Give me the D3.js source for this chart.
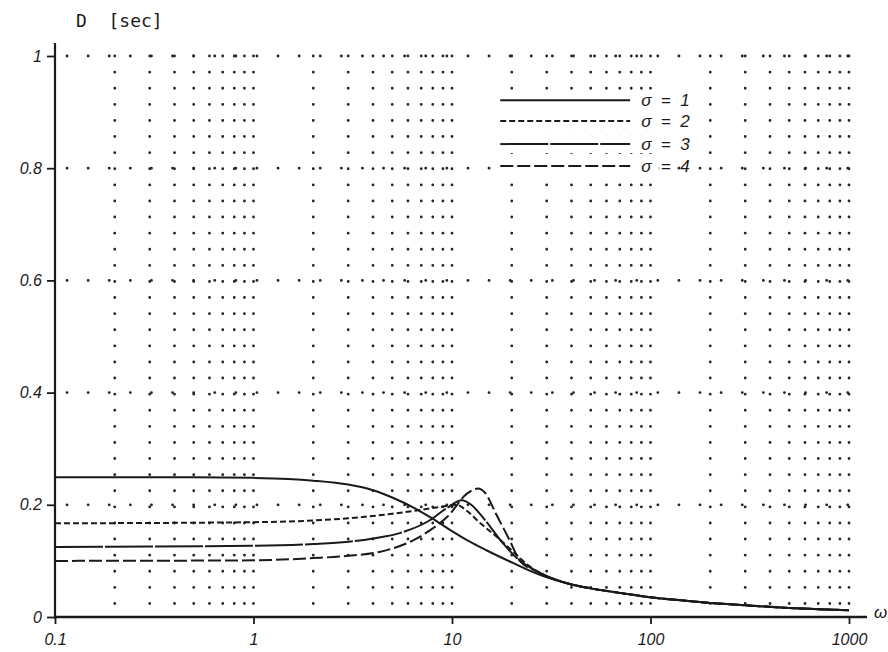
<!DOCTYPE html>
<html>
<head>
<meta charset="utf-8">
<script src="https://cdn.jsdelivr.net/npm/d3@7"></script>
<style>
  html, body { margin: 0; padding: 0; background: #fff; }
  svg { display: block; }
</style>
</head>
<body>
<svg id="chart" width="888" height="652"></svg>
<script>
// ---- data ----
const tail = [40, 50, 70, 100, 150, 200, 300, 500, 700, 1000];
const tailD = [0.058, 0.051, 0.043, 0.035, 0.029, 0.025, 0.021, 0.016, 0.014, 0.012];

const omega1 = [0.1, 0.5, 1, 1.5, 2, 3, 4, 5, 6.4, 7.5, 8.7, 10, 11.9, 14.9, 20.4, 27.7].concat(tail);
const delay1 = [0.249, 0.249, 0.248, 0.246, 0.243, 0.236, 0.226, 0.213, 0.195, 0.181, 0.167, 0.153, 0.137, 0.119, 0.096, 0.075].concat(tailD);

const omega2 = [0.1, 1, 2, 3, 5, 7, 9, 10.5, 12, 13.9, 16.8, 20.4, 24, 30].concat(tail);
const delay2 = [0.167, 0.169, 0.172, 0.176, 0.184, 0.191, 0.197, 0.2, 0.188, 0.167, 0.143, 0.116, 0.093, 0.073].concat(tailD);

const omega3 = [0.1, 1, 2, 3, 4, 5.5, 7.7, 9.5, 11.2, 12.5, 14.5, 18, 22, 26, 30].concat(tail);
const delay3 = [0.125, 0.127, 0.13, 0.134, 0.14, 0.15, 0.172, 0.195, 0.208, 0.2, 0.175, 0.132, 0.1, 0.084, 0.073].concat(tailD);

const omega4 = [0.1, 1, 2, 3, 4.3, 6.4, 8, 9.5, 11.9, 13.5, 14.7, 16.6, 19.5, 22, 26, 30].concat(tail);
const delay4 = [0.1, 0.101, 0.105, 0.109, 0.116, 0.137, 0.158, 0.179, 0.22, 0.229, 0.221, 0.185, 0.137, 0.1, 0.083, 0.073].concat(tailD);

const seriesNames = ["\u03c3  =  1", "\u03c3  =  2", "\u03c3  =  3", "\u03c3  =  4"];
const seriesDash = ["none", "6,3", "48,2", "13,4"];
const legendLevels = [0.921, 0.884, 0.843, 0.804];

const yTicks = [0, 0.2, 0.4, 0.6, 0.8, 1];
const yTickLabels = ["0", "0.2", "0.4", "0.6", "0.8", "1"];
const xTicks = [0.1, 1, 10, 100, 1000];
const xTickLabels = ["0.1", "1", "10", "100", "1000"];
const yTitle = "D  [sec]";
const xTitle = "\u03c9";

// ---- drawing ----
const svg = d3.select("#chart");
const x = d3.scaleLog().domain([0.1, 1000]).range([55, 849]);
const y = d3.scaleLinear().domain([0, 1]).range([617, 56]);

const ink = "#1a1a1a";
const font = "'Liberation Sans', Arial, sans-serif";

// dotted grid: minor vertical columns
const minor = [];
[0.1, 1, 10, 100].forEach(dec => {
  for (let k = 2; k <= 10; k++) minor.push(+(dec * k).toPrecision(6));
});
const grid = svg.append("g").attr("stroke", "#262626").attr("stroke-linecap", "round");
grid.selectAll("line.v").data(minor).join("line")
  .attr("class", "v")
  .attr("x1", d => x(d)).attr("x2", d => x(d))
  .attr("y1", y(1)).attr("y2", y(0) - 6)
  .attr("stroke-width", 2.8)
  .attr("stroke-dasharray", "0.1,16");
// horizontal dotted lines
grid.selectAll("line.h").data(yTicks.slice(1)).join("line")
  .attr("class", "h")
  .attr("x1", x(0.1) + 12).attr("x2", x(1000) + 4)
  .attr("y1", d => y(d)).attr("y2", d => y(d))
  .attr("stroke-width", 2.8)
  .attr("stroke-dasharray", "0.1,21");

// axes
const yAxis = d3.axisLeft(y).tickValues(yTicks).tickSize(8)
  .tickFormat((d, i) => yTickLabels[i]);
const gy = svg.append("g").attr("transform", `translate(${x(0.1)},0)`).call(yAxis);
gy.select(".domain").remove();
gy.selectAll(".tick line").attr("stroke", ink).attr("stroke-width", 1.8);
gy.selectAll(".tick text").attr("font-family", font).attr("font-style", "italic")
  .attr("font-size", 16).attr("fill", ink).attr("x", -13);

const xAxis = d3.axisBottom(x).tickValues(xTicks).tickSize(7)
  .tickFormat((d, i) => xTickLabels[i]);
const gx = svg.append("g").attr("transform", `translate(0,${y(0)})`).call(xAxis);
gx.select(".domain").remove();
gx.selectAll(".tick line").attr("stroke", ink).attr("stroke-width", 1.8);
gx.selectAll(".tick text").attr("font-family", font).attr("font-style", "italic")
  .attr("font-size", 16).attr("fill", ink).attr("dy", "1.15em");

// axis lines
svg.append("line").attr("x1", x(0.1)).attr("x2", x(0.1))
  .attr("y1", y(0) + 2).attr("y2", y(1) - 13)
  .attr("stroke", ink).attr("stroke-width", 2.2);
svg.append("line").attr("x1", x(0.1)).attr("x2", x(1000) + 18)
  .attr("y1", y(0)).attr("y2", y(0))
  .attr("stroke", ink).attr("stroke-width", 2.4);

// titles
svg.append("text").attr("x", x(0.1) + 21).attr("y", y(1) - 29)
  .attr("font-family", "'DejaVu Sans Mono', monospace").attr("font-size", 18)
  .attr("fill", ink).attr("xml:space", "preserve").text(yTitle);
svg.append("text").attr("x", x(1000) + 25).attr("y", y(0) + 1)
  .attr("font-family", font).attr("font-style", "italic").attr("font-size", 17)
  .attr("fill", ink).text(xTitle);

// curves
const series = [
  { w: omega1, d: delay1 },
  { w: omega2, d: delay2 },
  { w: omega3, d: delay3 },
  { w: omega4, d: delay4 }
];
const line = d3.line().x(p => x(p[0])).y(p => y(p[1])).curve(d3.curveMonotoneX);
svg.append("g").selectAll("path").data(series).join("path")
  .attr("d", s => line(s.w.map((w, i) => [w, s.d[i]])))
  .attr("fill", "none").attr("stroke", ink).attr("stroke-width", 2)
  .attr("stroke-dasharray", (s, i) => seriesDash[i]);

// legend
const lg = svg.append("g");
seriesNames.forEach((name, i) => {
  lg.append("rect").attr("x", x(16)).attr("y", y(legendLevels[i]) - 9)
    .attr("width", x(110) - x(16)).attr("height", 18).attr("fill", "#fff");
  lg.append("line").attr("x1", x(17.5)).attr("x2", x(79))
    .attr("y1", y(legendLevels[i])).attr("y2", y(legendLevels[i]))
    .attr("stroke", ink).attr("stroke-width", 2)
    .attr("stroke-dasharray", seriesDash[i]);
  lg.append("text").attr("x", x(79) + 11).attr("y", y(legendLevels[i]) + 6)
    .attr("font-family", font).attr("font-style", "italic").attr("font-size", 17)
    .attr("fill", ink).attr("xml:space", "preserve").text(name);
});
</script>
</body>
</html>
